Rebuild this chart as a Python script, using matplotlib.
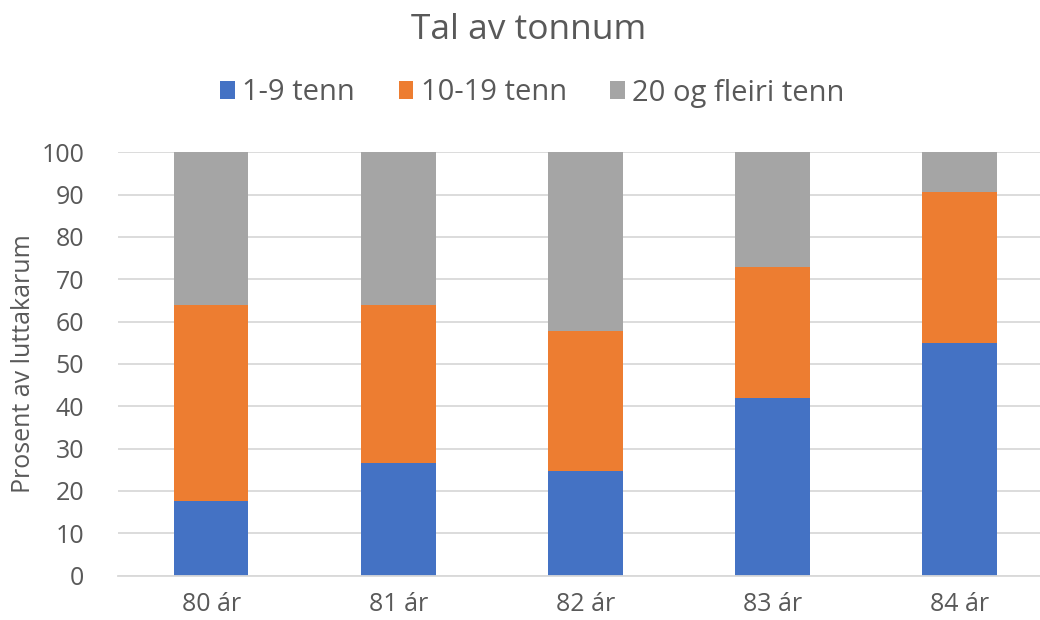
import matplotlib

matplotlib.use("Agg")
import matplotlib.pyplot as plt
import numpy as np
from matplotlib.patches import Patch

# Share of respondents by number of teeth, per age group
ages = ["80 ár", "81 ár", "82 ár", "83 ár", "84 ár"]
series_names = ["1-9 tenn", "10-19 tenn", "20 og fleiri tenn"]
teeth_1_9 = [17.7, 26.7, 24.6, 41.9, 55.0]
teeth_10_19 = [46.2, 37.3, 33.2, 31.0, 35.5]
teeth_20_plus = [36.1, 36.0, 42.2, 27.1, 9.5]
yticks = [0, 10, 20, 30, 40, 50, 60, 70, 80, 90, 100]

colors = ["#4472C4", "#ED7D31", "#A5A5A5"]
text_color = "#595959"
grid_color = "#D9D9D9"
plt.rcParams["font.family"] = ["Open Sans", "DejaVu Sans"]

fig = plt.figure(figsize=(10.4, 6.2), dpi=100)
ax = fig.add_axes([0.113, 0.0715, 0.8995, 0.683])

x = np.arange(len(ages))
bottom = np.zeros(len(ages))
for values, color in zip([teeth_1_9, teeth_10_19, teeth_20_plus], colors):
    ax.bar(x, values, width=0.4, bottom=bottom, color=color, zorder=2)
    bottom += np.array(values)

ax.set_xlim(-0.5, len(ages) - 0.5)
ax.set_ylim(0, 100)
ax.set_yticks(yticks)
ax.set_xticks(x, ages)
ax.grid(axis="y", color=grid_color, linewidth=1.3, zorder=0)
ax.set_axisbelow(True)
for name, spine in ax.spines.items():
    spine.set_visible(name == "bottom")
ax.spines["bottom"].set_color(grid_color)
ax.spines["bottom"].set_linewidth(1.3)
ax.tick_params(axis="both", length=0, colors=text_color, labelsize=18)
ax.tick_params(axis="y", pad=24)
ax.tick_params(axis="x", pad=12)
ax.set_ylabel("Prosent av luttakarum", color=text_color, fontsize=18, va="center")
ax.yaxis.set_label_coords(-0.101, 0.5)

fig.text(0.508, 0.952, "Tal av tonnum", ha="center", va="center", color=text_color, fontsize=25.5)
handles = [Patch(facecolor=c, edgecolor="none") for c in colors]
fig.legend(
    handles,
    series_names,
    loc="center",
    bbox_to_anchor=(0.512, 0.85),
    ncol=3,
    frameon=False,
    fontsize=21,
    labelcolor=text_color,
    handlelength=0.5,
    handleheight=0.55,
    handletextpad=0.25,
    columnspacing=1.5,
)

fig.savefig("out.png", dpi=100, facecolor="white")
